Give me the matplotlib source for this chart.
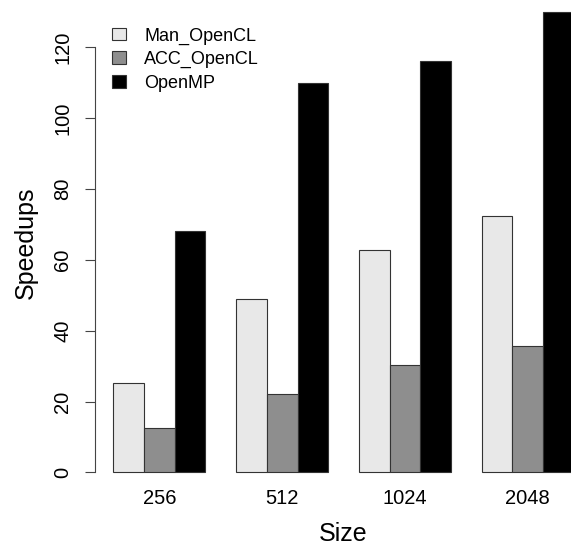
import matplotlib
matplotlib.use("Agg")
import matplotlib.pyplot as plt
from matplotlib.patches import Patch
import numpy as np

plt.rcParams['font.family'] = ['Liberation Sans', 'DejaVu Sans']

sizes = ["256", "512", "1024", "2048"]
series = ["Man_OpenCL", "ACC_OpenCL", "OpenMP"]
man_opencl = [25.3, 49.0, 62.8, 72.4]
acc_opencl = [12.6, 22.1, 30.3, 35.7]
openmp = [68.2, 109.9, 116.1, 129.8]
colors = ["#E8E8E8", "#8E8E8E", "#000000"]
yticks = [0, 20, 40, 60, 80, 100, 120]

values = [man_opencl, acc_opencl, openmp]

W, H = 571, 547
fig = plt.figure(figsize=(W / 100, H / 100), dpi=100)
ax = fig.add_axes([0.1662, 0.1026, 0.8711, 0.9088])

# R barplot beside=TRUE, space=c(0,1): bar width 1, one unit gap between groups
n_series = len(series)
for gi in range(len(sizes)):
    for si in range(n_series):
        left = 1 + gi * (n_series + 1) + si
        ax.bar(left, values[si][gi], width=1.0, align='edge',
               color=colors[si], edgecolor='#333333', linewidth=0.8)

ymax = max(openmp)
ax.set_xlim(0.4, 16.6)
ax.set_ylim(-0.04 * ymax, 1.04 * ymax)

centers = [1 + gi * (n_series + 1) + n_series / 2 for gi in range(len(sizes))]
ax.set_xticks(centers)
ax.set_xticklabels(sizes, fontsize=14.5)
ax.tick_params(axis='x', length=0, pad=-1)

ax.set_yticks(yticks)
ax.set_yticklabels([str(t) for t in yticks], fontsize=14.5, rotation=90, va='center')
ax.tick_params(axis='y', length=7.2, width=0.8, color='#444444', pad=9)

for s in ['top', 'right', 'bottom']:
    ax.spines[s].set_visible(False)
ax.spines['left'].set_bounds(0, 120)
ax.spines['left'].set_color('#444444')
ax.spines['left'].set_linewidth(0.8)

ax.set_xlabel("Size", fontsize=18, labelpad=10)
ax.set_ylabel("Speedups", fontsize=18, labelpad=11)

handles = [Patch(facecolor=c, edgecolor='#333333', linewidth=0.8) for c in colors]
ax.legend(handles, series, loc='upper left', bbox_to_anchor=(0.196, 0.950),
          bbox_transform=fig.transFigure, frameon=False, fontsize=13,
          handlelength=0.8, handleheight=0.7, handletextpad=1.0,
          labelspacing=0.36, borderpad=0, borderaxespad=0)

fig.savefig("out.png", dpi=100)
